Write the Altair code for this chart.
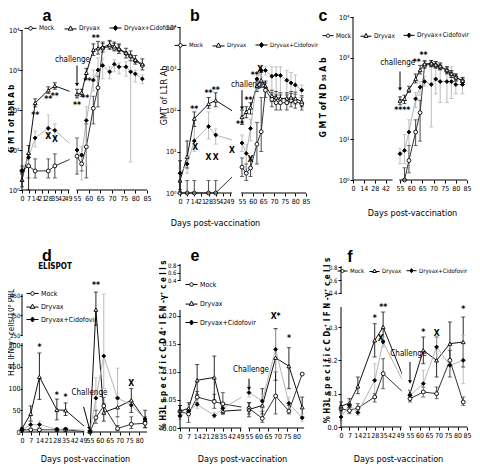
import altair as alt
import pandas as pd

FONT = "Liberation Sans Narrow, DejaVu Sans Condensed, sans-serif"
BOLD_FONT = "Liberation Sans, Arial, sans-serif"
MARGIN = 8
W, H = 464, 456

SERIES = ["Mock", "Dryvax", "Dryvax+Cidofovir"]
LINE_COLORS = ["#333333", "#111111", "#b4b4b4"]
FILL_COLORS = ["white", "white", "black"]
STROKE_COLORS = ["black", "black", "black"]
SHAPES = ["circle", "triangle-up", "diamond"]
LEGEND_SHAPES = [
    "M-1 0L-0.3 0M0.3 0L1 0M0.3 0A0.3 0.3 0 1 1 -0.3 0A0.3 0.3 0 1 1 0.3 0",
    "M-1 0.1L-0.3 0.1M0.3 0.1L1 0.1M0 -0.4L0.38 0.3L-0.38 0.3Z",
    "M-1 0L-0.34 0M0.34 0L1 0M0 -0.42L0.34 0L0 0.42L-0.34 0Z",
]
X_DOMAIN = [0, 49, 55, 85]
GAP = [50, 54.3]

XT_FULL = [0, 7, 14, 21, 28, 35, 42, 49, 55, 60, 65, 70, 75, 80, 85]
XT_C = [0, 14, 28, 42, 55, 60, 65, 70, 75, 80, 85]
XT_DE = [0, 7, 14, 21, 28, 35, 42, 49, 55, 60, 65, 70, 75, 80]
LOG_TICKS = [1, 10, 100, 1000, 10000]

# ---------------- panel a : GMT of B5R Ab
A_DAYS = [0, 7, 14, 28, 35, 55, 57, 59, 62, 64, 66, 69, 71, 73, 76, 78, 80, 83]
A_MOCK = [3, 4, 3, 3, 4, 7, 4.5, 12, 110, 360, 3500, 3900, 3500, 3200, 2600, 2200, 1700, 1300]
A_MOCK_HI = [4, 8, 6, 6, 8, 20, 7, 45, 220, 700, 4600, 5200, 4600, 4200, None, None, None, None]
A_MOCK_LO = [2.5, 2, 2, 2, 2, 2.5, 3, 2, 45, 120, None, None, None, None, None, None, None, None]
A_DRY = [1.8, 8.5, 150, 310, 400, 250, 270, 850, 3200, 3500, 3700, 4300, 3900, 3400, 2700, 2300, 1800, 1400]
A_DRY_HI = [2.5, 13, 190, 380, 480, 330, 330, 1100, 4500, 5200, 5000, 5500, 5000, 4500, 3500, 3000, 2300, 1900]
A_DRY_LO = [1.2, 1, 120, 260, 330, 200, 220, 600, 2300, 2500, 2800, 3300, 3000, 2600, 2000, 1700, 1400, 1000]
A_CID = [3, 6.5, 20, 35, 31, 10, 7.5, 55, 560, 1000, 1300, 900, 1400, 1200, 1200, 900, 800, 600]
A_CID_HI = [4, 9, 30, 75, 45, 20, 12, 120, 1000, 2000, 2000, 1200, 1800, 1500, 1600, 1800, 1000, 750]
A_CID_LO = [2.5, 4, 12, 20, 22, 3, 1.8, 4, 300, 500, 600, 600, 900, 800, 700, 5, 500, 450]
A_NOTES = [(14, 75, "**"), (28, 185, "**"), (35, 220, "**"), (28, 23, "X"), (35, 19, "X"),
           (55, 135, "**"), (58.5, 205, "**"), (59.5, 520, "**"), (63, 6200, "**")]
A_CHALLENGE = (52, 1750)
A_ARROW = (55, 1300, 55, 430)

# ---------------- panel b : GMT of L1R Ab
B_DAYS = [0, 7, 14, 28, 35, 55, 57, 59, 62, 64, 66, 69, 71, 73, 76, 78, 80, 83]
B_MOCK = [1, 1, 1, 1, 1, 4.2, 3, 4, 15, 30, 300, 180, 150, 150, 150, 170, 160, 140]
B_MOCK_HI = [2, 2, 2, 2, 2, 7, 5, 7, 50, 200, 450, 260, 230, 230, 230, 250, 240, 200]
B_MOCK_LO = [None, None, None, None, None, 2.5, 2, 2.5, 5, 10, 200, 120, 100, 100, 100, 120, 110, 100]
B_DRY = [2, 7.5, 62, 140, 170, 68, 90, 115, 380, 520, 380, 220, 200, 190, 190, 200, 190, 160]
B_DRY_HI = [6, 18, 90, 200, 260, 100, 120, 150, 500, 800, 500, 300, 280, 260, 260, 280, 270, 220]
B_DRY_LO = [1.2, 4, 40, 110, 120, 45, 65, 80, 280, 350, 280, 160, 150, 140, 140, 150, 140, 120]
B_CID = [3, 5, 18, 40, 25, 16, 9, 36, 560, 900, 900, 650, 700, 680, 520, 450, 400, 300]
B_CID_HI = [4, 8, 40, 90, 35, 25, 15, 60, 800, 1200, 1100, 1100, 1100, 1100, 900, 800, 700, 400]
B_CID_LO = [2, 3, 10, 20, 15, 10, 4, 18, 300, 600, 700, 250, 250, 250, 200, 200, 200, 200]
B_NOTES = [(14, 105, "**"), (28, 250, "**"), (35, 310, "**"), (15, 13, "X"), (28, 7.5, "X"),
           (35, 7.5, "X"), (50, 11, "X"), (54, 45, "**"), (58, 170, "**"), (61, 700, "**"),
           (63.5, 1000, "X"), (59, 6.5, "X")]
B_CHALLENGE = (58, 390)
B_ARROW = (55, 300, 55, 110)

# ---------------- panel c : GMT of ND50 Ab
C_DAYS = [55, 57, 59, 62, 64, 66, 69, 71, 73, 76, 78, 80, 83]
C_MOCK = [None, 1, 3, 15, 45, 650, 700, 650, 600, 480, 400, 330, 270]
C_MOCK_HI = [None, 2, 7, 30, 90, 800, 850, 800, 700, 600, 480, 400, 330]
C_MOCK_LO = [None, 1, 1.5, 7, 9, 550, 600, 550, 500, 400, 330, 270, 220]
C_DRY = [89, 98, 166, 300, 500, 700, 730, 680, 620, 500, 400, 330, 270]
C_DRY_HI = [110, 120, 200, 400, 650, 850, 850, 800, 750, 600, 480, 400, 320]
C_DRY_LO = [70, 75, 140, 240, 400, 600, 620, 580, 520, 420, 330, 270, 220]
C_CID = [4.4, 5.3, 15, 98, 190, 260, 220, 300, 260, 260, 260, 220, 220]
C_CID_HI = [6, 13, 30, 140, 260, 350, 600, 600, 550, 550, 600, 350, 300]
C_CID_LO = [2.5, 2.5, 5, 60, 120, 200, 20, 130, 80, 80, 100, 130, 130]
C_NOTES = [(56, 52, "****"), (62.5, 800, "**"), (65.5, 1200, "**")]
C_CHALLENGE = (53.5, 730)
C_ARROW = (55, 460, 55, 170)

# ---------------- panel d : ELISPOT
D_DAYS = [0, 7, 14, 28, 35, 55, 58, 62, 69, 76, 83]
D_MOCK = [5, 5, 5, 5, 5, 0, 33, 60, 8, 18, 20]
D_MOCK_HI = [8, 8, 8, 8, 8, None, 50, 80, 15, 35, 35]
D_MOCK_LO = [2, 2, 2, 2, 2, None, 20, 40, 3, 8, 10]
D_DRY = [8, 42, 127, 51, 50, 2, 380, 45, 57, 73, 28]
D_DRY_HI = [10, 60, 182, 76, 67, None, 470, 65, 80, 100, 50]
D_DRY_LO = [6, 25, 75, 28, 38, None, 300, 25, 35, 45, 10]
D_CID = [5, 17, 17, 6, 7, 3, 78, 175, 78, 62, 30]
D_CID_HI = [8, 25, 25, 10, 10, None, 125, 460, 147, None, None]
D_CID_LO = [2, 10, 10, 3, 4, None, 40, 100, 5, None, None]
D_NOTES = [(14, 195, "*"), (28, 85, "*"), (35, 80, "*"), (58, 505, "**"), (76, 113, "X")]
D_CHALLENGE = (54.5, 90)
D_ARROW = (49.5, 58, 54.5, 8)

# ---------------- panel e : CD4
E_DAYS = [0, 7, 14, 28, 35, 55, 62, 69, 76, 83]
E_MOCK = [0.03, 0.025, 0.055, 0.047, 0.043, 0.035, 0.017, 0.057, 0.03, 0.096]
E_MOCK_HI = [0.04, 0.03, 0.065, 0.06, 0.063, 0.045, 0.03, 0.1, 0.04, None]
E_MOCK_LO = [0.02, 0.01, 0.045, 0.035, 0.025, 0.025, 0.01, 0.025, 0.025, None]
E_DRY = [0.03, 0.035, 0.085, 0.09, 0.03, 0.033, 0.04, 0.125, 0.11, 0.037]
E_DRY_HI = [0.04, 0.045, 0.113, 0.128, 0.035, 0.045, 0.07, 0.177, 0.143, 0.055]
E_DRY_LO = [0.02, 0.025, 0.06, 0.05, 0.025, 0.02, 0.025, 0.085, 0.07, 0.02]
E_CID = [0.022, 0.03, 0.042, 0.022, 0.035, 0.063, 0.048, 0.14, 0.044, 0.018]
E_CID_HI = [0.03, 0.04, 0.05, 0.028, 0.04, 0.075, 0.06, 0.175, 0.055, 0.025]
E_CID_LO = [0.015, 0.02, 0.035, 0.018, 0.03, 0.055, 0.035, 0.1, 0.035, 0.012]
E_NOTES = [(69, 0.2, "X*"), (76, 0.16, "*")]
E_CHALLENGE = (56, 0.104)
E_ARROW = (55, 0.088, 55, 0.07)

# ---------------- panel f : CD8
F_DAYS = [0, 7, 14, 28, 35, 55, 62, 69, 76, 83]
F_MOCK = [0.055, 0.049, 0.057, 0.09, 0.16, 0.085, 0.105, 0.1, 0.2, 0.075]
F_MOCK_HI = [0.065, 0.058, 0.07, 0.1, 0.205, 0.095, 0.12, 0.12, 0.23, 0.09]
F_MOCK_LO = [0.045, 0.04, 0.045, 0.075, 0.115, 0.075, 0.09, 0.085, 0.15, 0.065]
F_DRY = [0.062, 0.072, 0.122, 0.26, 0.3, 0.1, 0.23, 0.2, 0.25, 0.255]
F_DRY_HI = [0.075, 0.085, 0.15, 0.31, 0.345, 0.11, 0.27, 0.27, 0.315, 0.33]
F_DRY_LO = [0.05, 0.06, 0.1, 0.21, 0.26, 0.09, 0.19, 0.15, 0.185, 0.18]
F_CID = [0.03, 0.065, 0.043, 0.14, 0.255, 0.095, 0.13, 0.24, 0.185, 0.2]
F_CID_HI = [0.04, 0.08, 0.05, 0.19, 0.27, 0.11, 0.17, 0.27, 0.2, 0.275]
F_CID_LO = [0.02, 0.05, 0.035, 0.09, 0.24, 0.08, 0.09, 0.2, 0.17, 0.13]
F_NOTES = [(28, 0.327, "*"), (35, 0.36, "**"), (33, 0.267, "X"), (62, 0.285, "*"),
           (69, 0.282, "X"), (83, 0.355, "*")]
F_CHALLENGE = (54, 0.22)
F_ARROW = (55, 0.195, 55, 0.135)

LOG_LABEL = ("'10' + (datum.value >= 10000 ? '\u2074' : datum.value >= 1000 ? '\u00b3' : "
             "datum.value >= 100 ? '\u00b2' : datum.value >= 10 ? '\u00b9' : '\u2070')")
SMALL_UPPER = {"condition": {"test": "datum.value >= 0.3", "value": 6}, "value": 7}

PANELS = [
    dict(days=A_DAYS, vals=[A_MOCK, A_DRY, A_CID], hi=[A_MOCK_HI, A_DRY_HI, A_CID_HI],
         lo=[A_MOCK_LO, A_DRY_LO, A_CID_LO], notes=A_NOTES, challenge=A_CHALLENGE, arrow=A_ARROW,
         ctext="challenge", log=True, ydom=[1, 10000], yticks=LOG_TICKS,
         ylab=dict(labelExpr=LOG_LABEL, labelPadding=0),
         xticks=XT_FULL, xr=[22, 68, 77, 147], yr=[190, 30], xsegs=[(0, 50), (54.5, 85)],
         ysegs=[(1, 10000)], ytitle="G M T  of  B5R  A b", ytpos=(11.5, 118), ytbold=True, ytfs=8,
         xtitle=None, xtpos=None,
         legend=dict(x=24, y=21, dir="horizontal", row=2, col=7, fs=6.5, sym=144)),
    dict(days=B_DAYS, vals=[B_MOCK, B_DRY, B_CID], hi=[B_MOCK_HI, B_DRY_HI, B_CID_HI],
         lo=[B_MOCK_LO, B_DRY_LO, B_CID_LO], notes=B_NOTES, challenge=B_CHALLENGE, arrow=B_ARROW,
         ctext="challenge", log=True, ydom=[1, 10000], yticks=LOG_TICKS, ylab=dict(labelExpr=LOG_LABEL),
         xticks=XT_FULL, xr=[180, 230, 242, 306], yr=[193, 27], xsegs=[(0, 50), (54.5, 85)],
         ysegs=[(1, 10000)], ytitle="GMT of L1R Ab", ytpos=(163, 95), ytbold=False, ytfs=9,
         xtitle="Days post-vaccination", xtpos=(215, 222),
         legend=dict(x=174, y=38, dir="horizontal", row=2, col=6, fs=6, sym=144)),
    dict(days=C_DAYS, vals=[C_MOCK, C_DRY, C_CID], hi=[C_MOCK_HI, C_DRY_HI, C_CID_HI],
         lo=[C_MOCK_LO, C_DRY_LO, C_CID_LO], notes=C_NOTES, challenge=C_CHALLENGE, arrow=C_ARROW,
         ctext="challenge", log=True, ydom=[1, 10000], yticks=LOG_TICKS, ylab=dict(labelExpr=LOG_LABEL),
         xticks=XT_C, xr=[353, 391, 400, 467], yr=[180, 17], xsegs=[(0, 50), (54.5, 85)],
         ysegs=[(1, 10000)], ytitle="G M T  of  N D \u2085\u2080 A b", ytpos=(322, 97), ytbold=True, ytfs=8.5,
         xtitle="Days post-vaccination", xtpos=(412, 212),
         legend=dict(x=322, y=29, dir="horizontal", row=2, col=6, fs=6.5, sym=121)),
    dict(days=D_DAYS, vals=[D_MOCK, D_DRY, D_CID], hi=[D_MOCK_HI, D_DRY_HI, D_CID_HI],
         lo=[D_MOCK_LO, D_DRY_LO, D_CID_LO], notes=D_NOTES, challenge=D_CHALLENGE, arrow=D_ARROW,
         arrow_angle=345, ctext="Challenge", log=False, ydom=[0, 205, 245, 460],
         yticks=[0, 50, 100, 150, 200, 250, 350, 450],
         ylab=dict(labelFontSize={"condition": {"test": "datum.value >= 240", "value": 6}, "value": 7},
                   labelPadding=0, tickSize=2),
         xticks=XT_DE, xr=[22, 83, 90, 149], yr=[432, 343, 336, 294], xsegs=[(0, 50), (54.5, 84)],
         ysegs=[(0, 205), (245, 460)], ytitle="H3L IFN-\u03b3\u207a cells/10\u2076 PBL", ytpos=(11.5, 332),
         ytbold=False, ytfs=8, xtitle="Days post-vaccination", xtpos=(85, 458),
         legend=dict(x=26, y=287, dir="vertical", row=2, col=6, fs=7, sym=144)),
    dict(days=E_DAYS, vals=[E_MOCK, E_DRY, E_CID], hi=[E_MOCK_HI, E_DRY_HI, E_CID_HI],
         lo=[E_MOCK_LO, E_DRY_LO, E_CID_LO], notes=E_NOTES, challenge=E_CHALLENGE, arrow=E_ARROW,
         ctext="Challenge", log=False, ydom=[0, 0.21, 0.38, 0.83],
         yticks=[0, 0.05, 0.1, 0.15, 0.2, 0.4, 0.6, 0.8],
         ylab=dict(labelExpr="datum.value >= 0.3 ? format(datum.value, '.1f') : format(datum.value, '.2f')",
                   labelFontSize=SMALL_UPPER),
         xticks=XT_DE, xr=[180, 240, 249, 306], yr=[428, 310, 281, 264], xsegs=[(0, 50), (54.5, 84)],
         ysegs=[(0, 0.21), (0.38, 0.83)],
         ytitle="% H3L  s p e c i f i c  C D 4\u207a I F N -\u03b3\u207a c e l l s", ytpos=(163, 345),
         ytbold=True, ytfs=8, xtitle="Days post-vaccination", xtpos=(242, 458),
         legend=dict(x=185, y=278, dir="vertical", row=8, col=6, fs=7, sym=144)),
    dict(days=F_DAYS, vals=[F_MOCK, F_DRY, F_CID], hi=[F_MOCK_HI, F_DRY_HI, F_CID_HI],
         lo=[F_MOCK_LO, F_DRY_LO, F_CID_LO], notes=F_NOTES, challenge=F_CHALLENGE, arrow=F_ARROW,
         ctext="Challenge", log=False, ydom=[0, 0.36, 0.38, 0.82],
         yticks=[0, 0.1, 0.2, 0.3, 0.4, 0.6, 0.8], ylab=dict(format=".1f", labelFontSize=SMALL_UPPER),
         xticks=XT_FULL, xr=[341, 400, 410, 467], yr=[427, 307, 294, 266], xsegs=[(0, 50), (54.5, 85)],
         ysegs=[(0, 0.36), (0.38, 0.82)],
         ytitle="% H3L  s p e c i f i c  C D\u2088\u207a I F N -\u03b3\u207a c e l l s", ytpos=(327, 340),
         ytbold=True, ytfs=8, xtitle="Days post-vaccination", xtpos=(398, 458),
         legend=dict(x=337, y=265, dir="horizontal", row=2, col=2, fs=6, sym=100)),
]

LETTERS = [("a", 47, 16, 16), ("b", 195, 16, 16), ("c", 323, 16, 16),
           ("d", 47, 256, 16), ("e", 195, 256, 16), ("f", 350, 257, 16), ("ELISPOT", 55, 267, 8)]


def build_panel(P):
    xsc = alt.Scale(domain=X_DOMAIN, range=[v - MARGIN for v in P["xr"]], nice=False, zero=False)
    yargs = dict(type="log" if P["log"] else "linear", domain=P["ydom"],
                 range=[v - MARGIN for v in P["yr"]], nice=False)
    if not P["log"]:
        yargs["zero"] = False
    ysc = alt.Scale(**yargs)

    def ex(f):
        return alt.X(f"{f}:Q", scale=xsc, axis=None)

    def ey(f):
        return alt.Y(f"{f}:Q", scale=ysc, axis=None)

    rows, err = [], []
    for s, v, h, l in zip(SERIES, P["vals"], P["hi"], P["lo"]):
        for d, vv, hh, ll in zip(P["days"], v, h, l):
            if vv is None:
                continue
            rows.append({"day": d, "value": vv, "series": s})
            if hh is not None or ll is not None:
                err.append({"day": d, "series": s,
                            "hi": hh if hh is not None else vv,
                            "lo": ll if ll is not None else vv})
    df = pd.DataFrame(rows)
    edf = pd.DataFrame(err)
    color = alt.Color("series:N", scale=alt.Scale(domain=SERIES, range=LINE_COLORS), legend=None)

    L = []
    L.append(alt.Chart(df).mark_line(strokeWidth=1).encode(x=ex("day"), y=ey("value"), color=color))
    gap = pd.DataFrame({"x0": [GAP[0]], "x1": [GAP[1]], "y0": [P["ydom"][0]], "y1": [P["ydom"][-1]]})
    L.append(alt.Chart(gap).mark_rect(color="white").encode(x=ex("x0"), x2="x1", y=ey("y0"), y2="y1"))
    L.append(alt.Chart(edf).mark_rule(strokeWidth=0.9).encode(x=ex("day"), y=ey("lo"), y2="hi", color=color))
    for f in ("hi", "lo"):
        L.append(alt.Chart(edf).mark_tick(orient="horizontal", size=4, thickness=1).encode(
            x=ex("day"), y=ey(f), color=color))
    L.append(alt.Chart(df).mark_point(size=15, strokeWidth=0.9, stroke="black", opacity=1).encode(
        x=ex("day"), y=ey("value"),
        shape=alt.Shape("series:N", scale=alt.Scale(domain=SERIES, range=SHAPES), legend=None),
        fill=alt.Fill("series:N", scale=alt.Scale(domain=SERIES, range=FILL_COLORS), legend=None)))

    # x axis (segmented line + ticks/labels)
    xa = pd.DataFrame({"x0": [s[0] for s in P["xsegs"]], "x1": [s[1] for s in P["xsegs"]],
                       "y": [P["ydom"][0]] * len(P["xsegs"])})
    xk = dict(orient="bottom", offset=P["yr"][0] - MARGIN - H, values=P["xticks"])
    if P["xtitle"]:
        xk.update(title=P["xtitle"], titleX=P["xtpos"][0] - MARGIN, titleY=P["xtpos"][1] - P["yr"][0],
                  titleBaseline="middle", titleAlign="center", titleFontSize=9, titleFontWeight="normal")
    else:
        xk.update(title=None)
    L.append(alt.Chart(xa).mark_rule(color="black", strokeWidth=1).encode(
        x=alt.X("x0:Q", scale=xsc, axis=alt.Axis(**xk)), x2="x1", y=ey("y")))

    # y axis
    ya = pd.DataFrame({"y0": [s[0] for s in P["ysegs"]], "y1": [s[1] for s in P["ysegs"]],
                       "x": [X_DOMAIN[0]] * len(P["ysegs"])})
    yk = dict(orient="left", offset=-(P["xr"][0] - MARGIN), values=P["yticks"], title=P["ytitle"],
              titleX=P["ytpos"][0] - P["xr"][0], titleY=P["ytpos"][1] - MARGIN, titleAngle=270,
              titleAlign="center", titleBaseline="middle", titleFontSize=P["ytfs"],
              titleFontWeight="bold" if P["ytbold"] else "normal")
    yk.update(P["ylab"])
    L.append(alt.Chart(ya).mark_rule(color="black", strokeWidth=1).encode(
        x=ex("x"), y=alt.Y("y0:Q", scale=ysc, axis=alt.Axis(**yk)), y2="y1"))

    nd = pd.DataFrame(P["notes"], columns=["day", "value", "label"])
    L.append(alt.Chart(nd).mark_text(font=FONT, fontSize=8.5, fontWeight="bold", baseline="middle").encode(
        x=ex("day"), y=ey("value"), text="label:N"))
    cd = pd.DataFrame([P["challenge"]], columns=["day", "value"])
    L.append(alt.Chart(cd).mark_text(text=P["ctext"], font=FONT, fontSize=8, baseline="middle").encode(
        x=ex("day"), y=ey("value")))
    ad = pd.DataFrame([P["arrow"]], columns=["x0", "y0", "x1", "y1"])
    L.append(alt.Chart(ad).mark_rule(color="black", strokeWidth=1).encode(
        x=ex("x0"), y=ey("y0"), x2="x1", y2="y1"))
    L.append(alt.Chart(ad).mark_point(shape="triangle-down", filled=True, color="black", size=16,
                                      angle=P.get("arrow_angle", 0), opacity=1).encode(x=ex("x1"), y=ey("y1")))

    lg = P["legend"]
    leg = alt.Legend(orient="none", legendX=lg["x"] - MARGIN, legendY=lg["y"] - MARGIN,
                     direction=lg["dir"], title=None, symbolSize=lg["sym"], symbolStrokeWidth=1,
                     symbolOpacity=1, labelFont=FONT, labelFontSize=lg["fs"],
                     labelColor="black", labelOffset=2, rowPadding=lg["row"], columnPadding=lg["col"],
                     padding=0)
    L.append(alt.Chart(pd.DataFrame({"series": SERIES})).mark_point(
        opacity=0, strokeWidth=1).encode(
        shape=alt.Shape("series:N", scale=alt.Scale(domain=SERIES, range=LEGEND_SHAPES), legend=leg),
        fill=alt.Fill("series:N", scale=alt.Scale(domain=SERIES, range=FILL_COLORS), legend=leg),
        stroke=alt.Stroke("series:N", scale=alt.Scale(domain=SERIES, range=STROKE_COLORS), legend=leg)))
    return L


layers = []
for P in PANELS:
    layers.extend(build_panel(P))

for t, x, y, fs in LETTERS:
    layers.append(alt.Chart(alt.Data(values=[{}])).mark_text(
        text=t, font=BOLD_FONT if fs > 10 else FONT, fontSize=fs, fontWeight="bold", baseline="middle").encode(
        x=alt.value(x - MARGIN), y=alt.value(y - MARGIN)))

chart = alt.layer(*layers).properties(
    width=W, height=H, autosize=alt.AutoSizeParams(type="none"), padding=0
).resolve_scale(
    x="independent", y="independent", color="independent", shape="independent", fill="independent",
    stroke="independent"
).configure_view(strokeWidth=0).configure_axis(
    labelFont=FONT, titleFont=FONT, labelFontSize=7, labelColor="black", titleColor="black",
    tickColor="black", tickSize=3, grid=False, domain=False, labelPadding=1,
    labelOverlap=False, labelFlush=False, labelBound=False
)

chart.save("out.html", embed_options={"renderer": "svg", "actions": False})
